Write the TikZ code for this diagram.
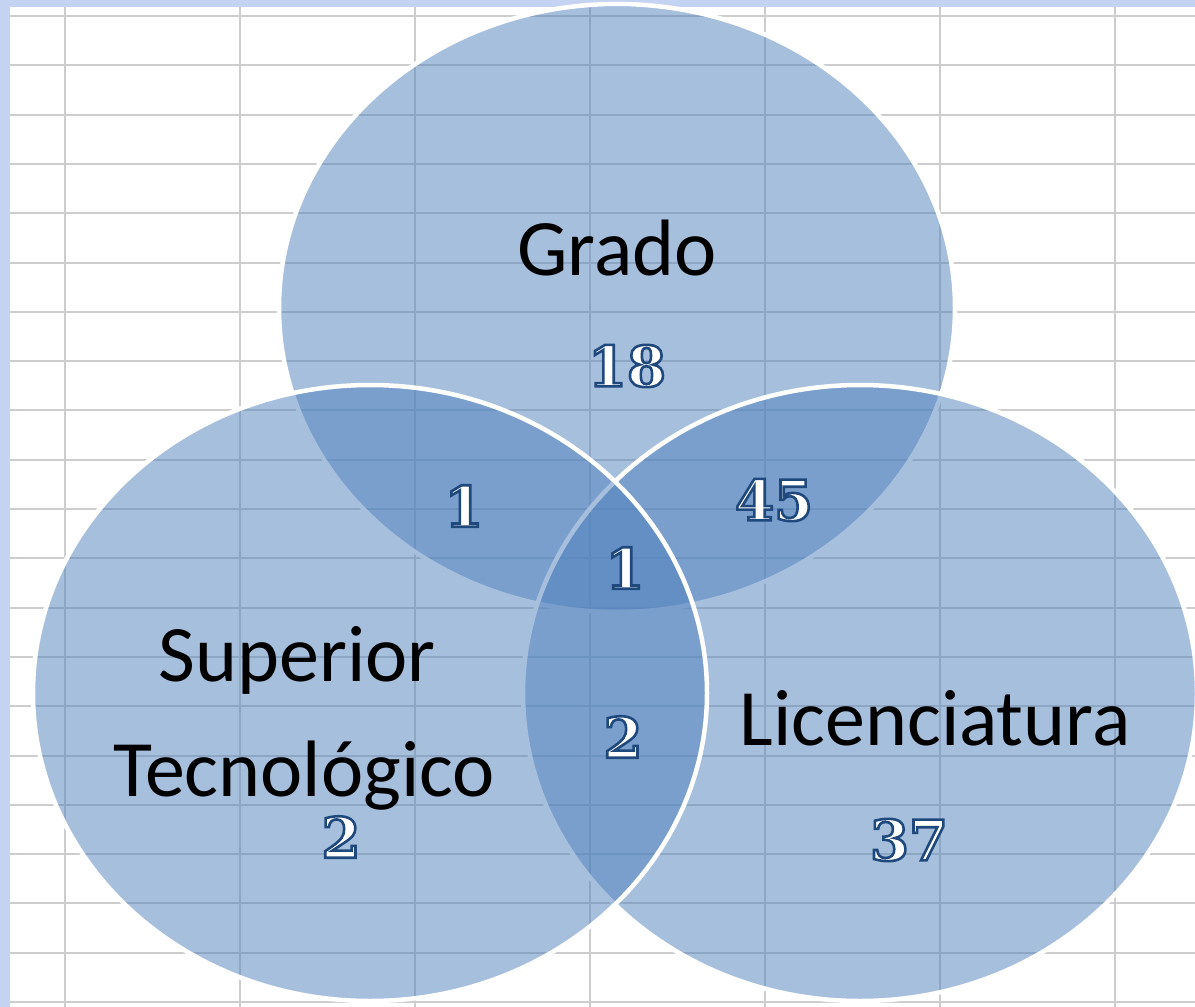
\documentclass[tikz,border=0pt]{standalone}
\usepackage{fontspec}
\setmainfont{Carlito}
\newfontfamily\numfont{DejaVu Serif}
\definecolor{setblue}{HTML}{4F81BD}
\definecolor{numblue}{HTML}{1F497D}
\definecolor{gridgray}{HTML}{CDCDCD}
\definecolor{edgeblue}{HTML}{C4D3F2}
% white digits with a dark blue stroke round them
\newcommand\countnum[1]{\color{white}\special{pdf:literal direct 2 Tr 2.6 w 0.122 0.286 0.490 RG}#1\special{pdf:literal direct 0 Tr}}

\begin{document}
\begin{tikzpicture}[x=1pt, y=-1pt,
    setfill/.style={fill=setblue, fill opacity=0.5, draw=white, line width=4.5pt},
    setlabel/.style={font=\fontsize{80}{90}\selectfont, text=black},
    countlabel/.style={font=\numfont\bfseries\fontsize{56}{64}\selectfont, inner sep=0pt}]
    \useasboundingbox (0,0) rectangle (1195,1007);
    % sheet behind the sets
    \fill[edgeblue] (0,0) rectangle (1195,1007);
    \fill[white] (10,7) rectangle (1195,1007);
    \foreach \x in {65,240,...,1115} {
        \draw[gridgray, line width=2pt] (\x,7) -- (\x,1007);
    }
    \foreach \k in {0,...,20} {
        \draw[gridgray, line width=2pt] (10,{16+49.3*\k}) -- (1195,{16+49.3*\k});
    }
    % the three sets
    \draw[setfill] (617,308) ellipse [x radius=338, y radius=304];
    \draw[setfill] (860,693) ellipse [x radius=337, y radius=308];
    \draw[setfill] (370,693) ellipse [x radius=337, y radius=308];
    % names
    \node[setlabel] (grado) at (617,248) {Grado};
    \node[setlabel] (superior) at (297,660) {Superior};
    \node[setlabel] (tecnologico) at (304,776) {Tecnológico};
    \node[setlabel] (licenciatura) at (935,718) {Licenciatura};
    % counts
    \node[countlabel] (ngrado) at (627,366) {\countnum{18}};
    \node[countlabel] (nsup) at (341,837) {\countnum{2}};
    \node[countlabel] (nlic) at (909,840) {\countnum{37}};
    \node[countlabel] (ngs) at (464,506) {\countnum{1}};
    \node[countlabel] (ngl) at (774,500) {\countnum{45}};
    \node[countlabel] (nall) at (625,568) {\countnum{1}};
    \node[countlabel] (nsl) at (623,737) {\countnum{2}};
\end{tikzpicture}
\end{document}
